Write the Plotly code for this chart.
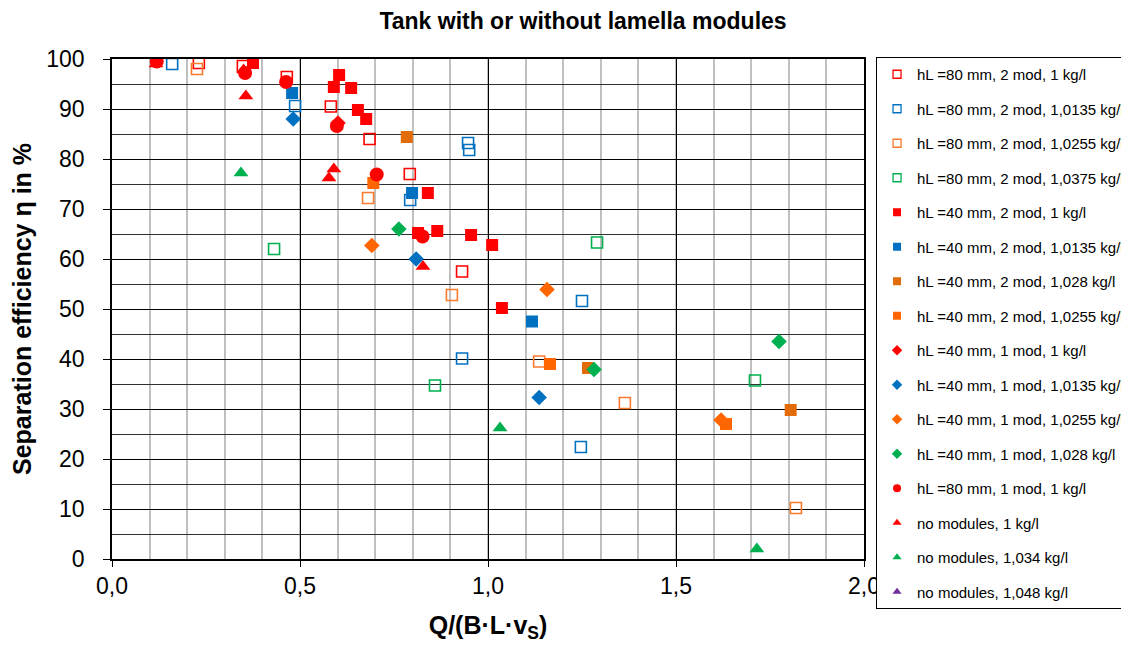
import plotly.graph_objects as go

# ---- data (x = Q/(B·L·vS), y = separation efficiency in %) ----
names = [
    "hL =80 mm, 2 mod, 1 kg/l",
    "hL =80 mm, 2 mod, 1,0135 kg/l",
    "hL =80 mm, 2 mod, 1,0255 kg/l",
    "hL =80 mm, 2 mod, 1,0375 kg/l",
    "hL =40 mm, 2 mod, 1 kg/l",
    "hL =40 mm, 2 mod, 1,0135 kg/l",
    "hL =40 mm, 2 mod, 1,028 kg/l",
    "hL =40 mm, 2 mod, 1,0255 kg/l",
    "hL =40 mm, 1 mod, 1 kg/l",
    "hL =40 mm, 1 mod, 1,0135 kg/l",
    "hL =40 mm, 1 mod, 1,0255 kg/l",
    "hL =40 mm, 1 mod, 1,028 kg/l",
    "hL =80 mm, 1 mod, 1 kg/l",
    "no modules, 1 kg/l",
    "no modules, 1,034 kg/l",
    "no modules, 1,048 kg/l",
]

x80_2_1 = [0.231, 0.348, 0.465, 0.582, 0.685, 0.792, 0.931]
y80_2_1 = [99.2, 98.6, 96.4, 90.5, 84.0, 77.0, 57.5]

x80_2_10135 = [0.160, 0.487, 0.947, 0.950, 0.793, 1.250, 0.931, 1.247]
y80_2_10135 = [99.0, 90.6, 83.2, 81.8, 71.8, 51.6, 40.1, 22.4]

x80_2_10255 = [0.226, 0.681, 0.904, 1.136, 1.364, 1.819]
y80_2_10255 = [98.0, 72.2, 52.8, 39.5, 31.2, 10.2]

x80_2_10375 = [0.431, 0.859, 1.290, 1.710]
y80_2_10375 = [62.0, 34.7, 63.3, 35.7]

x40_2_1 = [0.375, 0.604, 0.590, 0.636, 0.654, 0.676, 0.840, 0.814, 0.865, 0.955, 1.011, 1.037]
y40_2_1 = [99.2, 96.8, 94.4, 94.2, 89.8, 88.0, 73.2, 65.2, 65.6, 64.8, 62.8, 50.2]

x40_2_10135 = [0.479, 0.798, 1.117]
y40_2_10135 = [93.2, 73.2, 47.5]

x40_2_1028 = [0.784, 1.266, 1.805]
y40_2_1028 = [84.4, 38.2, 29.8]

x40_2_10255 = [0.695, 1.165, 1.633]
y40_2_10255 = [75.2, 39.0, 27.0]

x40_1_1 = [0.601]
y40_1_1 = [87.2]

x40_1_10135 = [0.482, 0.809, 1.136]
y40_1_10135 = [88.0, 60.0, 32.3]

x40_1_10255 = [0.691, 1.157, 1.620]
y40_1_10255 = [62.7, 53.9, 27.8]

x40_1_1028 = [0.763, 1.282, 1.774]
y40_1_1028 = [66.0, 37.9, 43.5]

x80_1_1 = [0.119, 0.354, 0.463, 0.598, 0.704, 0.826]
y80_1_1 = [99.5, 97.2, 95.4, 86.6, 76.9, 64.5]

xno_1 = [0.117, 0.350, 0.356, 0.590, 0.577, 0.827]
yno_1 = [99.0, 97.8, 92.6, 78.0, 76.2, 58.5]

xno_1034 = [0.343, 1.032, 1.715]
yno_1034 = [77.2, 26.2, 2.0]

xno_1048 = []
yno_1048 = []

xs = [x80_2_1, x80_2_10135, x80_2_10255, x80_2_10375, x40_2_1, x40_2_10135,
      x40_2_1028, x40_2_10255, x40_1_1, x40_1_10135, x40_1_10255, x40_1_1028,
      x80_1_1, xno_1, xno_1034, xno_1048]
ys = [y80_2_1, y80_2_10135, y80_2_10255, y80_2_10375, y40_2_1, y40_2_10135,
      y40_2_1028, y40_2_10255, y40_1_1, y40_1_10135, y40_1_10255, y40_1_1028,
      y80_1_1, yno_1, yno_1034, yno_1048]

xtick_vals = [0.0, 0.5, 1.0, 1.5, 2.0]
xtick_text = ["0,0", "0,5", "1,0", "1,5", "2,0"]
ytick_vals = [0, 10, 20, 30, 40, 50, 60, 70, 80, 90, 100]

# ---- styles ----
RED = "#FF0000"
BLUE = "#0070C0"
ORANGE_L = "#F97B2E"
GREEN = "#00B050"
DORANGE = "#E36C0A"
ORANGE = "#FF6600"
PURPLE = "#7030A0"

styles = [
    dict(symbol="square-open", color=RED, size=11),
    dict(symbol="square-open", color=BLUE, size=11),
    dict(symbol="square-open", color=ORANGE_L, size=11),
    dict(symbol="square-open", color=GREEN, size=11),
    dict(symbol="square", color=RED, size=12),
    dict(symbol="square", color=BLUE, size=12),
    dict(symbol="square", color=DORANGE, size=12),
    dict(symbol="square", color=ORANGE, size=12),
    dict(symbol="diamond", color=RED, size=12),
    dict(symbol="diamond", color=BLUE, size=12),
    dict(symbol="diamond", color=ORANGE, size=12),
    dict(symbol="diamond", color=GREEN, size=12),
    dict(symbol="circle", color=RED, size=14),
    dict(symbol="triangle-up", color=RED, size=13),
    dict(symbol="triangle-up", color=GREEN, size=13),
    dict(symbol="triangle-up", color=PURPLE, size=13),
]


def make_marker(s, size, lw):
    m = dict(symbol=s["symbol"], color=s["color"], size=size)
    if s["symbol"].endswith("open"):
        m["line"] = dict(color=s["color"], width=lw)
    else:
        m["line"] = dict(width=0)
    return m


fig = go.Figure()
for i, (n, x, y, s) in enumerate(zip(names, xs, ys, styles)):
    # data trace
    fig.add_trace(go.Scatter(
        x=x, y=y, mode="markers", name=n,
        marker=make_marker(s, s["size"], 1.6),
        legendgroup=f"g{i}", showlegend=False,
    ))
    # legend entry with small symbol (as in the original chart)
    fig.add_trace(go.Scatter(
        x=[None], y=[None], mode="markers", name=n,
        marker=make_marker(s, 8, 1.3),
        legendgroup=f"g{i}", showlegend=True, hoverinfo="skip",
    ))

FONT = "Liberation Sans, Arial, sans-serif"

# figure is wider than the window so the legend box runs off the right edge
W, H = 1200, 637
L, T, PR, PB = 104, 51, 856, 551

fig.update_layout(
    width=W, height=H,
    margin=dict(l=L, r=W - PR, t=T, b=H - PB),
    paper_bgcolor="white", plot_bgcolor="white",
    font=dict(family=FONT, color="black"),
    title=dict(text="<b>Tank with or without lamella modules</b>",
               x=575 / W, xref="container", xanchor="center",
               y=1 - 13 / H, yref="container", yanchor="middle",
               font=dict(size=23, family=FONT, color="black")),
    showlegend=True,
    legend=dict(
        x=1.016, xanchor="left", y=1.004, yanchor="top",
        bordercolor="black", borderwidth=1, bgcolor="white",
        font=dict(size=15, family=FONT, color="black"),
        tracegroupgap=12.0, maxheight=600,
        itemsizing="trace", traceorder="grouped",
    ),
    xaxis=dict(
        range=[0, 2], tickvals=xtick_vals, ticktext=xtick_text,
        tickfont=dict(size=23), ticks="outside", ticklen=6, tickcolor="black",
        showgrid=True, gridcolor="black", gridwidth=1,
        minor=dict(dtick=0.1, tick0=0, showgrid=True, gridcolor="#C0C0C0", gridwidth=1.5),
        showline=True, linecolor="black", linewidth=1.5, mirror=True,
        zeroline=False, automargin=False,
        title=dict(text="<b>Q/(B·L·v<sub>S</sub>)</b>", font=dict(size=25), standoff=18),
    ),
    yaxis=dict(
        range=[0, 100], tickvals=ytick_vals,
        tickfont=dict(size=23), ticks="outside", ticklen=7, tickcolor="black",
        ticklabelstandoff=14,
        showgrid=True, gridcolor="black", gridwidth=1,
        minor=dict(dtick=5, tick0=0, showgrid=True, gridcolor="#303030", gridwidth=1),
        showline=True, linecolor="black", linewidth=1.5, mirror=True,
        zeroline=False, automargin=False,
        title=dict(text="<b>Separation efficiency η in %</b>", font=dict(size=25), standoff=12),
    ),
)

fig.write_html("out.html")
